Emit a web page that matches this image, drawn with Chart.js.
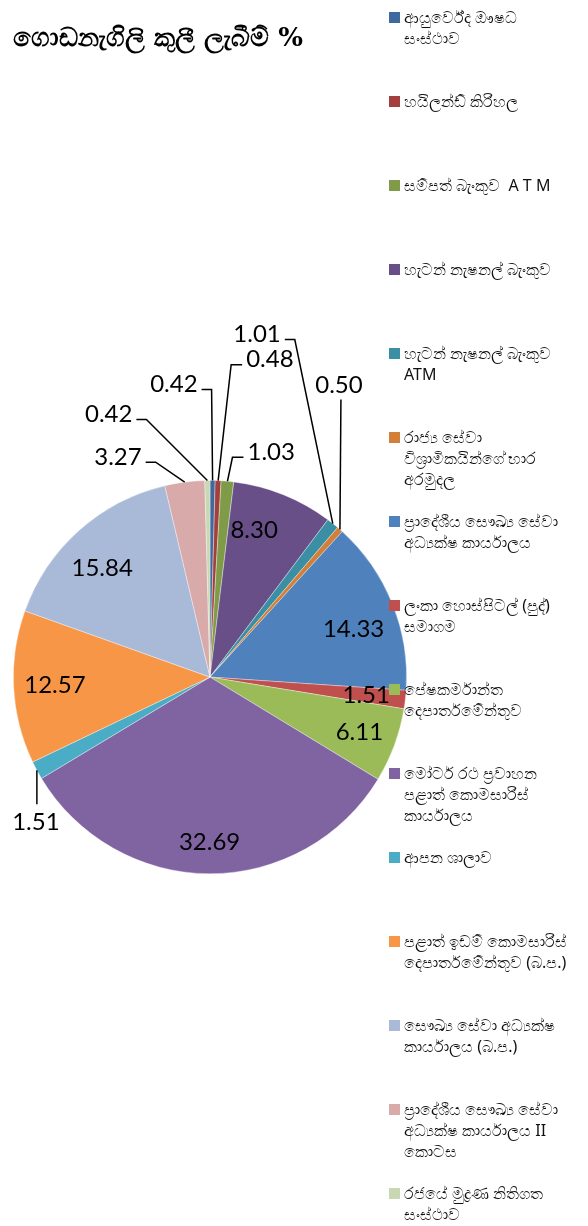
<!DOCTYPE html>
<html>
<head>
<meta charset="utf-8">
<script src="https://cdn.jsdelivr.net/npm/chart.js@4.4.0/dist/chart.umd.min.js"></script>
<style>
  html, body { margin: 0; padding: 0; background: #fff; }
  #wrap { width: 588px; height: 1226px; position: relative; }
</style>
</head>
<body>
<div id="wrap"><canvas id="rentChart"></canvas></div>
<script>
const titleText = 'ගොඩනැගිලි කුලී ලැබීම් %';

// legend labels, already split into the lines shown in the legend
const categories = [
  ['ආයුර්වේද ඖෂධ', 'සංස්ථාව'],
  ['හයිලන්ඩ් කිරිහල'],
  ['සම්පත් බැංකුව  A T M'],
  ['හැටන් නැෂනල් බැංකුව'],
  ['හැටන් නැෂනල් බැංකුව', 'ATM'],
  ['රාජ්‍ය සේවා', 'විශ්‍රාමිකයින්ගේ භාර', 'අරමුදල'],
  ['ප්‍රාදේශීය සෞඛ්‍ය සේවා', 'අධ්‍යක්ෂ කාර්යාලය'],
  ['ලංකා හොස්පිටල් (පුද්)', 'සමාගම'],
  ['පේෂකර්මාන්ත', 'දෙපාර්තමේන්තුව'],
  ['මෝටර් රථ ප්‍රවාහන', 'පළාත් කොමසාරිස්', 'කාර්යාලය'],
  ['ආපන ශාලාව'],
  ['පළාත් ඉඩම් කොමසාරිස්', 'දෙපාර්තමේන්තුව (බ.ප.)'],
  ['සෞඛ්‍ය සේවා අධ්‍යක්ෂ', 'කාර්යාලය (බ.ප.)'],
  ['ප්‍රාදේශීය සෞඛ්‍ය සේවා', 'අධ්‍යක්ෂ කාර්යාලය II', 'කොටස'],
  ['රජයේ මුද්‍රණ නිතිගත', 'සංස්ථාව']
];

const shares = [0.42, 0.48, 1.03, 8.30, 1.01, 0.50, 14.33, 1.51, 6.11, 32.69, 1.51, 12.57, 15.84, 3.27, 0.42];

const sliceColors = [
  '#3F6A9E', '#A3403D', '#7F9B48', '#684F88', '#3A8FA5', '#D27F3A',
  '#4F81BD', '#C0504D', '#9BBB59', '#8064A2', '#4BACC6', '#F79646',
  '#A9B9D8', '#D9AAAA', '#C9D8B3'
];

// where each value label goes: inside at a fraction of the radius,
// or out on a leader line (elbow offset from the rim, then a short tail)
const labelPlacement = [
  { dx: -1, dy: -91, side: 'left' },
  { dx: 13, dy: -116, side: 'right' },
  { dx: 5, dy: -24, side: 'right' },
  { r: 0.78, shift: -0.09 },
  { dx: -38, dy: -184, side: 'left' },
  { dx: 1, dy: -130, side: 'above' },
  { r: 0.77, shift: 0.06 },
  { r: 0.80 },
  { r: 0.81 },
  { r: 0.84 },
  { dx: 0, dy: 34, side: 'below' },
  { r: 0.79 },
  { r: 0.78, shift: -0.05 },
  { dx: -29, dy: -20, side: 'left' },
  { dx: -61, dy: -61, side: 'left' }
];

const sliceLabels = {
  id: 'sliceLabels',
  afterDatasetsDraw(chart) {
    const ctx = chart.ctx;
    const meta = chart.getDatasetMeta(0);
    ctx.save();
    ctx.font = '24px Lato, "Open Sans", sans-serif';
    ctx.fillStyle = '#000';
    ctx.strokeStyle = '#000';
    ctx.lineWidth = 1.5;
    ctx.textBaseline = 'middle';
    meta.data.forEach((arc, i) => {
      const text = shares[i].toFixed(2);
      const mid = (arc.startAngle + arc.endAngle) / 2;
      const p = labelPlacement[i];
      if (p.r) {
        const a = mid + (p.shift || 0);
        const r = arc.outerRadius * p.r;
        ctx.textAlign = 'center';
        ctx.fillText(text, arc.x + Math.cos(a) * r, arc.y + Math.sin(a) * r);
        return;
      }
      const ex = arc.x + Math.cos(mid) * arc.outerRadius;
      const ey = arc.y + Math.sin(mid) * arc.outerRadius;
      const kx = ex + p.dx, ky = ey + p.dy;
      ctx.beginPath();
      ctx.moveTo(ex, ey);
      ctx.lineTo(kx, ky);
      if (p.side === 'left') {
        ctx.lineTo(kx - 10, ky);
        ctx.stroke();
        ctx.textAlign = 'right';
        ctx.fillText(text, kx - 14, ky - 5);
      } else if (p.side === 'right') {
        ctx.lineTo(kx + 11, ky);
        ctx.stroke();
        ctx.textAlign = 'left';
        ctx.fillText(text, kx + 15, ky - 5);
      } else if (p.side === 'above') {
        ctx.stroke();
        ctx.textAlign = 'center';
        ctx.fillText(text, kx - 2, ky - 14);
      } else {
        ctx.stroke();
        ctx.textAlign = 'center';
        ctx.fillText(text, kx - 1, ky + 18);
      }
    });
    ctx.restore();
  }
};

const sideLegend = {
  id: 'sideLegend',
  afterDraw(chart) {
    const ctx = chart.ctx;
    const colors = chart.data.datasets[0].backgroundColor;
    ctx.save();
    ctx.font = '16px "Noto Sans", sans-serif';
    ctx.textBaseline = 'middle';
    ctx.textAlign = 'left';
    chart.data.labels.forEach((lines, i) => {
      const top = 12 + i * 84;
      ctx.fillStyle = colors[i];
      ctx.fillRect(389, top, 11, 11);
      ctx.fillStyle = '#111';
      lines.forEach((ln, j) => ctx.fillText(ln, 404, top + 6 + j * 21));
    });
    ctx.restore();
  }
};

function renderChart() {
  const canvas = document.getElementById('rentChart');
  canvas.width = 588;
  canvas.height = 1226;
  new Chart(canvas.getContext('2d'), {
    type: 'pie',
    data: {
      labels: categories,
      datasets: [{
        data: shares,
        backgroundColor: sliceColors,
        borderColor: 'rgba(255,255,255,0.6)',
        borderWidth: 0.6
      }]
    },
    options: {
      responsive: false,
      animation: false,
      layout: { padding: { left: 13, right: 181, top: 0, bottom: 352 } },
      plugins: {
        legend: { display: false },
        tooltip: { enabled: false },
        title: {
          display: true,
          text: titleText,
          align: 'start',
          color: '#000',
          font: { size: 26, weight: 'bold', family: '"DejaVu Serif", serif', lineHeight: 1.2 },
          padding: { top: 24, bottom: 425 }
        }
      }
    },
    plugins: [sliceLabels, sideLegend]
  });
}

document.addEventListener('DOMContentLoaded', renderChart);
</script>
</body>
</html>
